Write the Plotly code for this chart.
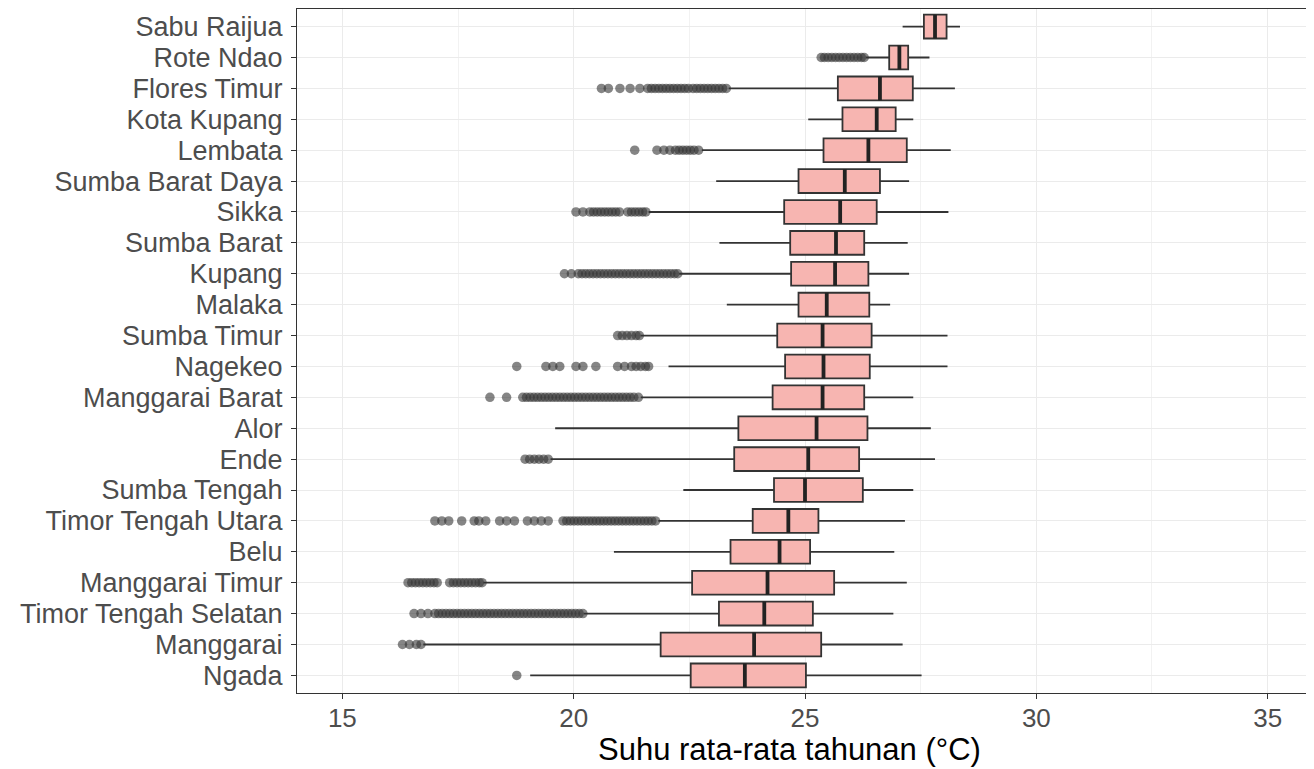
import plotly.graph_objects as go

categories = ["Sabu Raijua", "Rote Ndao", "Flores Timur", "Kota Kupang", "Lembata",
              "Sumba Barat Daya", "Sikka", "Sumba Barat", "Kupang", "Malaka",
              "Sumba Timur", "Nagekeo", "Manggarai Barat", "Alor", "Ende",
              "Sumba Tengah", "Timor Tengah Utara", "Belu", "Manggarai Timur",
              "Timor Tengah Selatan", "Manggarai", "Ngada"]

lower_whisker = [27.11, 26.32, 23.35, 25.07, 22.77, 23.08, 21.62, 23.15, 22.28, 23.31,
                 21.45, 22.05, 21.45, 19.60, 19.50, 22.37, 21.83, 20.87, 18.05, 20.22,
                 16.75, 19.06]
q1_vals = [27.57, 26.82, 25.71, 25.81, 25.40, 24.86, 24.55, 24.68, 24.70, 24.86,
           24.40, 24.57, 24.30, 23.56, 23.47, 24.33, 23.87, 23.39, 22.56, 23.14,
           21.88, 22.53]
median_vals = [27.81, 27.04, 26.62, 26.55, 26.37, 25.86, 25.76, 25.67, 25.65, 25.47,
               25.38, 25.40, 25.38, 25.25, 25.07, 25.00, 24.64, 24.45, 24.19, 24.12,
               23.90, 23.70]
q3_vals = [28.06, 27.23, 27.33, 26.96, 27.20, 26.62, 26.55, 26.28, 26.37, 26.39,
           26.44, 26.40, 26.28, 26.35, 26.17, 26.25, 25.29, 25.11, 25.63, 25.17,
           25.35, 25.02]
upper_whisker = [28.35, 27.69, 28.24, 27.34, 28.15, 27.25, 28.10, 27.22, 27.25, 26.84,
                 28.08, 28.08, 27.34, 27.72, 27.81, 27.34, 27.16, 26.93, 27.20, 26.91,
                 27.11, 27.52]

outliers = {
    "Sabu Raijua": [],
    "Rote Ndao": [25.35, 25.42, 25.5, 25.58, 25.66, 25.74, 25.82, 25.9, 25.98, 26.06,
                  26.14, 26.22, 26.28],
    "Flores Timur": [20.6, 20.75, 21.0, 21.22, 21.43, 21.6, 21.68, 21.76, 21.84, 21.92,
                     22.0, 22.08, 22.16, 22.24, 22.32, 22.4, 22.48, 22.58, 22.66,
                     22.74, 22.82, 22.9, 22.98, 23.06, 23.14, 23.22, 23.3],
    "Kota Kupang": [],
    "Lembata": [21.32, 21.8, 21.95, 22.08, 22.2, 22.28, 22.36, 22.44, 22.52, 22.6,
                22.7],
    "Sumba Barat Daya": [],
    "Sikka": [20.05, 20.2, 20.35, 20.43, 20.51, 20.59, 20.67, 20.75, 20.83, 20.91,
              20.99, 21.17, 21.25, 21.33, 21.41, 21.49, 21.56],
    "Sumba Barat": [],
    "Kupang": [19.8, 19.95, 20.1, 20.18, 20.26, 20.34, 20.42, 20.5, 20.58, 20.66,
               20.74, 20.82, 20.9, 20.98, 21.06, 21.14, 21.22, 21.3, 21.38, 21.46,
               21.54, 21.62, 21.7, 21.78, 21.86, 21.94, 22.02, 22.1, 22.18, 22.25],
    "Malaka": [],
    "Sumba Timur": [20.95, 21.05, 21.15, 21.25, 21.35, 21.42],
    "Nagekeo": [18.77, 19.4, 19.55, 19.7, 20.05, 20.2, 20.48, 20.95, 21.1, 21.25,
                21.35, 21.45, 21.55, 21.62],
    "Manggarai Barat": [18.19, 18.55, 18.9, 18.98, 19.06, 19.14, 19.22, 19.3, 19.38,
                        19.46, 19.54, 19.62, 19.7, 19.78, 19.86, 19.94, 20.02, 20.1,
                        20.18, 20.26, 20.34, 20.42, 20.5, 20.58, 20.66, 20.74, 20.82,
                        20.9, 20.98, 21.06, 21.14, 21.22, 21.3, 21.4],
    "Alor": [],
    "Ende": [18.95, 19.05, 19.15, 19.25, 19.35, 19.45],
    "Sumba Tengah": [],
    "Timor Tengah Utara": [17.0, 17.15, 17.3, 17.58, 17.85, 17.95, 18.1, 18.4, 18.55,
                           18.72, 19.0, 19.15, 19.3, 19.45, 19.77, 19.85, 19.93,
                           20.01, 20.09, 20.17, 20.25, 20.33, 20.41, 20.49, 20.57,
                           20.65, 20.73, 20.81, 20.89, 20.97, 21.05, 21.13, 21.21,
                           21.29, 21.37, 21.45, 21.53, 21.61, 21.69, 21.77],
    "Belu": [],
    "Manggarai Timur": [16.42, 16.5, 16.58, 16.66, 16.74, 16.82, 16.9, 16.98, 17.05,
                        17.32, 17.4, 17.48, 17.56, 17.64, 17.72, 17.8, 17.88, 17.96,
                        18.02],
    "Timor Tengah Selatan": [16.55, 16.7, 16.85, 17.0, 17.08, 17.16, 17.24, 17.32,
                             17.4, 17.48, 17.56, 17.64, 17.72, 17.8, 17.88, 17.96,
                             18.04, 18.12, 18.2, 18.28, 18.36, 18.44, 18.52, 18.6,
                             18.68, 18.76, 18.84, 18.92, 19.0, 19.08, 19.16, 19.24,
                             19.32, 19.4, 19.48, 19.56, 19.64, 19.72, 19.8, 19.88,
                             19.96, 20.04, 20.12, 20.2],
    "Manggarai": [16.3, 16.45, 16.6, 16.7],
    "Ngada": [18.77],
}

x_ticks = [15, 20, 25, 30, 35]
x_title = "Suhu rata-rata tahunan (°C)"

n = len(categories)
ypos = [n - 1 - i for i in range(n)]
box_w = 0.77

FONT = "Liberation Sans, Arial, Helvetica, sans-serif"
DARK = "#333333"

fig = go.Figure()

# outliers
ox, oy = [], []
for i, c in enumerate(categories):
    for v in outliers[c]:
        ox.append(v)
        oy.append(ypos[i])
fig.add_trace(go.Scatter(
    x=ox, y=oy, mode="markers",
    marker=dict(size=9.5, color="rgba(51,51,51,0.6)", line=dict(width=0)),
    hoverinfo="skip", showlegend=False,
))

fig.add_trace(go.Box(
    y=ypos, orientation="h",
    q1=q1_vals, median=median_vals, q3=q3_vals,
    lowerfence=lower_whisker, upperfence=upper_whisker,
    width=box_w, whiskerwidth=0, boxpoints=False,
    fillcolor="#F7B5B1", line=dict(color=DARK, width=1.8),
    hoverinfo="skip", showlegend=False,
))

# thicker median lines (ggplot style)
mx, my = [], []
for i, m in enumerate(median_vals):
    mx += [m, m, None]
    my += [ypos[i] - box_w / 2, ypos[i] + box_w / 2, None]
fig.add_trace(go.Scatter(
    x=mx, y=my, mode="lines", line=dict(color="#222222", width=3.8),
    hoverinfo="skip", showlegend=False,
))

# page body has an 8px margin, so the figure is 8px smaller than the window
fig.update_layout(
    width=1306, height=761,
    margin=dict(l=289, r=1, t=1, b=76, autoexpand=False),
    paper_bgcolor="white", plot_bgcolor="white",
    font=dict(family=FONT, size=25, color="#4D4D4D"),
    showlegend=False,
    annotations=[dict(
        text=x_title, xref="paper", yref="paper", x=0.485, y=-0.083,
        xanchor="center", yanchor="middle", showarrow=False,
        font=dict(family=FONT, size=31, color="black"),
    )],
)
fig.update_xaxes(
    range=[14.02, 35.98], tickvals=x_ticks, ticktext=[str(t) for t in x_ticks],
    showgrid=True, gridcolor="#EBEBEB", gridwidth=1.2,
    minor=dict(dtick=2.5, tick0=15, showgrid=True, gridcolor="#F2F2F2", gridwidth=0.8),
    showline=True, mirror=True, linecolor=DARK, linewidth=1,
    ticks="outside", ticklen=5, tickcolor=DARK, tickwidth=1,
    tickfont=dict(size=26, color="#4D4D4D"), ticklabelstandoff=-3,
    automargin=False, zeroline=False,
)
fig.update_yaxes(
    range=[-0.57, n - 1 + 0.57], tickvals=ypos, ticktext=categories,
    showgrid=True, gridcolor="#EBEBEB", gridwidth=1.2,
    showline=True, mirror=True, linecolor=DARK, linewidth=1,
    ticks="outside", ticklen=5, tickcolor=DARK, tickwidth=1,
    tickfont=dict(size=27, color="#4D4D4D"), ticklabelstandoff=3,
    automargin=False, zeroline=False,
)

fig.write_html("out.html")
